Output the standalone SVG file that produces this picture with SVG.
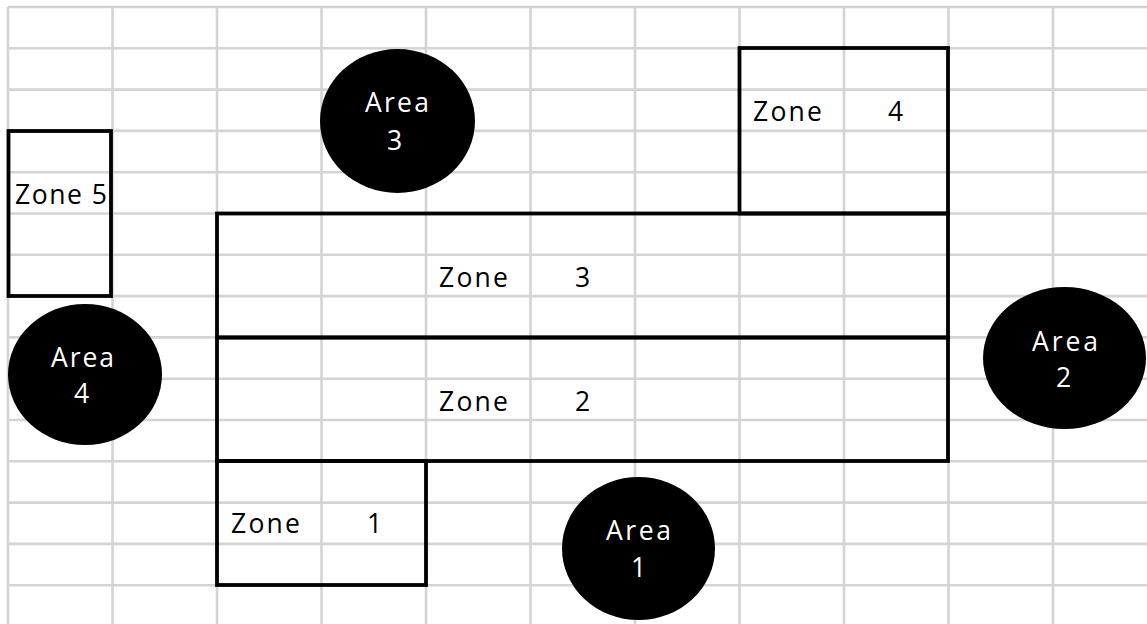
<svg xmlns="http://www.w3.org/2000/svg" width="1147" height="624" viewBox="0 0 1147 624">
<style>
.g{stroke:#d4d4d4;stroke-width:2.6;fill:none}
.z{stroke:#000;stroke-width:3.8;fill:none}
.a{fill:#000}
text{font-family:"Open Sans","Liberation Sans",sans-serif;font-size:26.5px}
.d{fill:#000}
.w{fill:#fff}
</style>
<rect width="1147" height="624" fill="#fff"/>
<g id="grid">
<path class="g" d="M8 7V624M112.5 7V624M217 7V624M321.5 7V624M426 7V624M530.5 7V624M635 7V624M739.5 7V624M844 7V624M948.5 7V624M1053 7V624"/>
<path class="g" d="M8 7H1147M8 48.3H1147M8 89.6H1147M8 130.9H1147M8 172.2H1147M8 213.5H1147M8 254.8H1147M8 296.1H1147M8 337.4H1147M8 378.7H1147M8 420H1147M8 461.3H1147M8 502.6H1147M8 543.9H1147M8 585.2H1147"/>
</g>
<g id="zone5">
<rect class="z" x="8.5" y="131" width="102.5" height="165"/>
<text class="d" x="15" y="204" textLength="92" lengthAdjust="spacing">Zone 5</text>
</g>
<g id="zone4">
<rect class="z" x="739.5" y="48" width="208.5" height="165.5"/>
<text class="d" x="753" y="121" textLength="69" lengthAdjust="spacing">Zone</text>
<text class="d" x="888" y="121">4</text>
</g>
<g id="zone3">
<rect class="z" x="217" y="213.5" width="731" height="124"/>
<text class="d" x="439" y="287" textLength="69" lengthAdjust="spacing">Zone</text>
<text class="d" x="575" y="287">3</text>
</g>
<g id="zone2">
<rect class="z" x="217" y="337.5" width="731" height="123.5"/>
<text class="d" x="439" y="411" textLength="69" lengthAdjust="spacing">Zone</text>
<text class="d" x="575" y="411">2</text>
</g>
<g id="zone1">
<rect class="z" x="217" y="461" width="209" height="124"/>
<text class="d" x="231" y="533" textLength="69" lengthAdjust="spacing">Zone</text>
<text class="d" x="367" y="533">1</text>
</g>
<g id="area3">
<ellipse class="a" cx="397.5" cy="121" rx="77.5" ry="72"/>
<text class="w" x="365" y="112" textLength="64" lengthAdjust="spacing">Area</text>
<text class="w" x="387" y="150">3</text>
</g>
<g id="area1">
<ellipse class="a" cx="638.5" cy="548.5" rx="76.5" ry="71.5"/>
<text class="w" x="606" y="540" textLength="65" lengthAdjust="spacing">Area</text>
<text class="w" x="631" y="577">1</text>
</g>
<g id="area4">
<ellipse class="a" cx="85" cy="374.5" rx="77" ry="70.5"/>
<text class="w" x="51" y="367" textLength="63" lengthAdjust="spacing">Area</text>
<text class="w" x="74" y="403">4</text>
</g>
<g id="area2">
<ellipse class="a" cx="1064.5" cy="358" rx="81.5" ry="71"/>
<text class="w" x="1032" y="351" textLength="66" lengthAdjust="spacing">Area</text>
<text class="w" x="1056" y="387">2</text>
</g>
<g id="connectors"/>
</svg>
